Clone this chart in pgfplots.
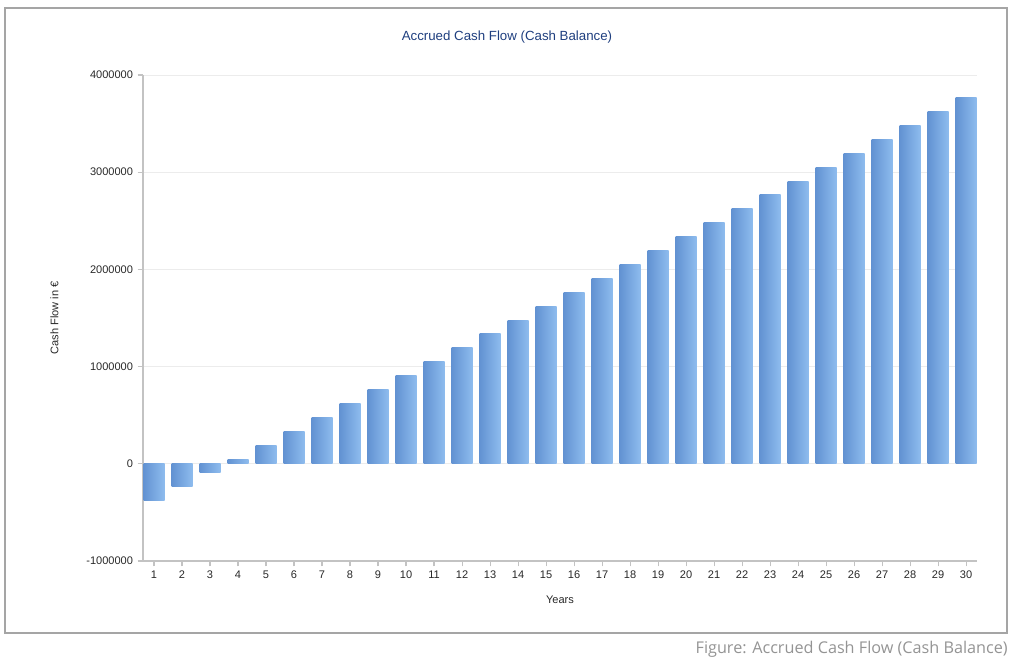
\documentclass[border=0pt]{standalone}
\usepackage{pgfplots}
\usepackage{pgfplotstable}
\pgfplotsset{compat=1.18}
\usepackage{fontspec}
\setmainfont{Liberation Sans}
\newfontfamily\capfont{Open Sans}

\definecolor{barL}{RGB}{98,146,210}
\definecolor{barR}{RGB}{142,188,238}
\definecolor{axgray}{RGB}{195,195,195}
\definecolor{gridgray}{RGB}{236,236,236}
\definecolor{framegray}{RGB}{165,165,165}
\definecolor{titleblue}{RGB}{31,63,127}
\definecolor{txt}{RGB}{40,40,40}

\pgfplotstableread{
year cf
1 -380000
2 -237000
3 -94000
4 49000
5 192000
6 335000
7 478000
8 621000
9 764000
10 907000
11 1050000
12 1193000
13 1336000
14 1479000
15 1622000
16 1765000
17 1908000
18 2051000
19 2194000
20 2337000
21 2480000
22 2623000
23 2766000
24 2909000
25 3052000
26 3195000
27 3338000
28 3481000
29 3624000
30 3767000
}\cashdata

\begin{document}
\begin{tikzpicture}[x=0.75bp,y=0.75bp]
% page = 1024 x 663 px, origin at axis corner (143,561)
\path (-143,561) rectangle (881,-102);
\draw[framegray, line width=1.1bp] (-138,553) rectangle (864,-72);

\begin{axis}[
  at={(0,0)}, anchor=south west,
  scale only axis,
  width=625.5bp, height=364.5bp,
  xmin=0.607, xmax=30.39,
  ymin=-1000000, ymax=4000000,
  ytick={-1000000,0,1000000,2000000,3000000,4000000},
  yticklabels={-1000000,0,1000000,2000000,3000000,4000000},
  scaled y ticks=false,
  xtick={1,...,30},
  xticklabels={1,2,3,4,5,6,7,8,9,10,11,12,13,14,15,16,17,18,19,20,21,22,23,24,25,26,27,28,29,30},
  axis lines=left,
  axis line style={-, axgray, line width=0.8bp},
  tick style={axgray, line width=0.8bp},
  tick align=outside,
  major tick length=4bp,
  ymajorgrids,
  grid style={gridgray, line width=0.6bp},
  ticklabel style={font=\fontsize{8.3}{10}\selectfont, text=txt},
  xlabel={Years},
  ylabel={Cash Flow in €},
  label style={font=\fontsize{8.3}{10}\selectfont, text=txt},
  xlabel style={yshift=-6bp},
  ylabel style={yshift=14bp},
  clip=false,
]
\pgfplotsinvokeforeach{1,...,30}{
  \addplot[ybar, bar width=0.75, bar shift=0pt, draw=none,
    left color=barL, right color=barR,
    restrict x to domain=#1:#1]
    table[x=year, y=cf] {\cashdata};
}
\end{axis}
\node[text=titleblue, font=\fontsize{10}{12}\selectfont] at (364,524) {Accrued Cash Flow (Cash Balance)};
\node[anchor=base east, inner sep=0pt, text=framegray!90!black, font=\capfont\fontsize{12.2}{14}\selectfont] at (865,-92) {Figure: Accrued Cash Flow (Cash Balance)};
\end{tikzpicture}
\end{document}
